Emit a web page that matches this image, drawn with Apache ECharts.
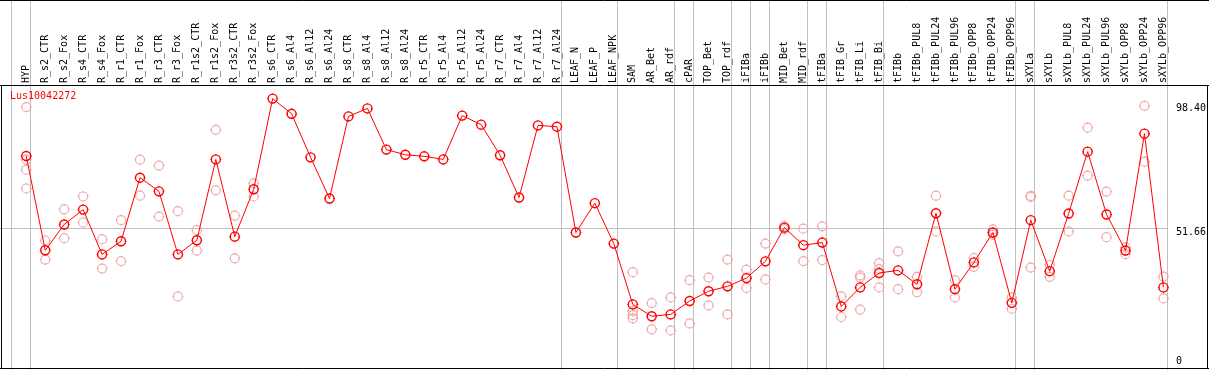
<!DOCTYPE html>
<html>
<head>
<meta charset="utf-8">
<script src="https://cdn.jsdelivr.net/npm/echarts@6/dist/echarts.min.js"></script>
<style>
html,body{margin:0;padding:0;background:#fff;}
#chart{width:1209px;height:370px;}
</style>
</head>
<body>
<div id="chart"></div>
<script>
const geneName = 'Lus10042272';

const categories = ['HYP','R_s2_CTR','R_s2_Fox','R_s4_CTR','R_s4_Fox','R_r1_CTR','R_r1_Fox','R_r3_CTR','R_r3_Fox',
  'R_r1s2_CTR','R_r1s2_Fox','R_r3s2_CTR','R_r3s2_Fox','R_s6_CTR','R_s6_Al4','R_s6_Al12','R_s6_Al24',
  'R_s8_CTR','R_s8_Al4','R_s8_Al12','R_s8_Al24','R_r5_CTR','R_r5_Al4','R_r5_Al12','R_r5_Al24',
  'R_r7_CTR','R_r7_Al4','R_r7_Al12','R_r7_Al24','LEAF_N','LEAF_P','LEAF_NPK','SAM','AR_Bet','AR_rdf',
  'cPAR','TOP_Bet','TOP_rdf','iFIBa','iFIBb','MID_Bet','MID_rdf','tFIBa','tFIB_Gr','tFIB_Li','tFIB_Bi',
  'tFIBb','tFIBb_PUL8','tFIBb_PUL24','tFIBb_PUL96','tFIBb_OPP8','tFIBb_OPP24','tFIBb_OPP96',
  'sXYLa','sXYLb','sXYLb_PUL8','sXYLb_PUL24','sXYLb_PUL96','sXYLb_OPP8','sXYLb_OPP24','sXYLb_OPP96'];

const meanValues = [79.8,43.2,53.2,59.0,41.6,46.7,71.4,66.1,41.6,
  47.1,78.5,48.5,66.9,102.1,96.2,79.3,63.3,
  95.2,98.3,82.3,80.3,79.7,78.5,95.5,92.0,
  80.1,63.7,91.7,91.2,50.1,61.5,45.8,22.2,17.6,18.3,
  23.5,27.3,29.2,32.4,38.9,52.0,45.2,46.2,21.4,28.8,34.4,
  35.4,30.0,57.6,28.1,38.5,50.1,22.8,
  54.9,35.1,57.5,81.5,57.1,43.1,88.5,28.8];

const replicateValues = [
  [98.8,78.4,74.5,67.2],[47.0,39.6],[59.1,47.9],[64.1,54.0],[47.5,36.1],[54.9,39.0],[78.4,64.4],[76.1,56.3],[58.4,25.3],
  [51.0,43.1],[90.0,66.5],[56.7,40.1],[69.2,64.1],[],[],[],[],
  [],[],[],[],[],[],[],[],
  [],[],[],[],[],[],[],[34.7,19.6,18.0,16.8],[22.7,12.5],[24.9,12.1],
  [31.6,14.8],[32.6,21.8],[39.6,18.3],[35.7,28.6],[45.8,31.9],[52.6,51.4],[51.6,39.0],[52.5,39.4],[25.3,17.3],[33.5,32.6,20.2],[38.2,35.9,28.8],
  [42.8,28.1],[32.9,26.9],[64.4,50.5],[31.6,24.9],[40.2,36.8],[51.3,49.3],[24.9,20.5],
  [64.3,63.9,36.5],[37.5,32.9],[64.4,50.5],[90.8,72.2],[66.0,48.3],[44.3,41.7],[99.3,77.6],[33.0,24.5]];

// category index where each sample group starts (last entry = end of axis)
const groupStarts = [0,1,29,32,35,36,38,39,40,42,43,46,53,54,61];

const yTickValues = [0, 51.66, 98.40];
const yTickLabels = ['0', '51.66', '98.40'];

const replicatePoints = [];
replicateValues.forEach((arr, i) => arr.forEach(v => replicatePoints.push([i, v])));

const MONO = 'DejaVu Sans Mono';
const RED = '#ff0000';
const PINK = '#ef9a9a';
const GRAY = '#c0c0c0';
const NUBS = 'path://M-0.5,-5.5h1v1.5h-1zM-0.5,4h1v1.5h-1zM-5.5,-0.5h1.5v1h-1.5zM4,-0.5h1.5v1h-1.5z';
const SEP_OFFSET = 0.78;

const chart = echarts.init(document.getElementById('chart'), null, {renderer: 'canvas'});

chart.setOption({
  animation: false,
  backgroundColor: '#ffffff',
  title: {
    text: geneName, left: 10, top: 91, padding: 0,
    textStyle: {color: RED, fontFamily: MONO, fontSize: 10, fontWeight: 'normal'}
  },
  grid: {left: 16.8, right: 33.2, top: 86, bottom: 1.5, containLabel: false},
  xAxis: [{
    type: 'category', position: 'top', data: categories, boundaryGap: true,
    axisLine: {show: false}, axisTick: {show: false}, splitLine: {show: false},
    axisLabel: {interval: 0, rotate: 90, margin: 3, fontFamily: MONO, fontSize: 10, color: '#000'}
  }, {
    type: 'value', min: -0.5, max: categories.length - 0.5, show: false
  }],
  yAxis: {
    type: 'value', position: 'right', min: -2.7, max: 107.0,
    axisLine: {show: false}, axisTick: {show: false}, splitLine: {show: false},
    axisLabel: {
      customValues: yTickValues,
      margin: 3, align: 'left', verticalAlign: 'middle',
      fontFamily: MONO, fontSize: 10, color: '#000',
      formatter: (v) => {
        const k = yTickValues.findIndex(t => Math.abs(t - v) < 1e-6);
        const s = k >= 0 ? yTickLabels[k] : '';
        return k === 1 ? '{m|' + s + '}' : s;
      },
      rich: {m: {padding: [8, 0, 0, 0], fontFamily: MONO, fontSize: 10, color: '#000'}}
    }
  },
  series: [
    {
      type: 'custom', xAxisIndex: 1, yAxisIndex: 0, silent: true, z: 1,
      data: groupStarts.map(s => [s, 0]),
      encode: {x: 0, y: 1},
      renderItem: (params, api) => {
        const x = Math.floor(api.coord([api.value(0) - SEP_OFFSET, 0])[0]) + 0.5;
        return {type: 'line', shape: {x1: x, y1: 0, x2: x, y2: 370},
          style: {stroke: GRAY, lineWidth: 1}};
      }
    },
    {
      type: 'custom', xAxisIndex: 1, yAxisIndex: 0, silent: true, z: 1,
      data: [[0, yTickValues[1]]],
      encode: {x: 0, y: 1},
      renderItem: (params, api) => {
        const y = Math.floor(api.coord([0, api.value(1)])[1]) + 0.5;
        const xEnd = Math.floor(api.coord([groupStarts[groupStarts.length - 1] - SEP_OFFSET, 0])[0]) + 0.5;
        return {type: 'line', shape: {x1: 0, y1: y, x2: xEnd, y2: y},
          style: {stroke: GRAY, lineWidth: 1}};
      }
    },
    {
      type: 'scatter', data: replicatePoints, symbol: 'circle', symbolSize: 9, z: 3, silent: true,
      itemStyle: {color: 'rgba(0,0,0,0)', borderColor: PINK, borderWidth: 1.2}
    },
    {
      type: 'scatter', data: replicatePoints, symbol: NUBS, symbolSize: 11, z: 3, silent: true,
      itemStyle: {color: PINK}
    },
    {
      type: 'line', data: meanValues, z: 5, silent: true,
      symbol: 'circle', symbolSize: 9, showSymbol: true, showAllSymbol: true,
      lineStyle: {color: RED, width: 1},
      itemStyle: {color: 'rgba(0,0,0,0)', borderColor: RED, borderWidth: 1.4}
    },
    {
      type: 'scatter', data: meanValues, symbol: NUBS, symbolSize: 11, z: 6, silent: true,
      itemStyle: {color: RED}
    }
  ],
  graphic: [
    {type: 'line', z: 100, shape: {x1: 0, y1: 0.5, x2: 1209, y2: 0.5}, style: {stroke: '#000', lineWidth: 1}},
    {type: 'line', z: 100, shape: {x1: 0, y1: 85.5, x2: 1209, y2: 85.5}, style: {stroke: '#000', lineWidth: 1}},
    {type: 'line', z: 100, shape: {x1: 1.5, y1: 85, x2: 1.5, y2: 369}, style: {stroke: '#000', lineWidth: 1}},
    {type: 'line', z: 100, shape: {x1: 0, y1: 368.5, x2: 1209, y2: 368.5}, style: {stroke: '#000', lineWidth: 1}},
    {type: 'line', z: 100, shape: {x1: 1207.5, y1: 85, x2: 1207.5, y2: 369}, style: {stroke: '#000', lineWidth: 1}}
  ]
});
</script>
</body>
</html>
